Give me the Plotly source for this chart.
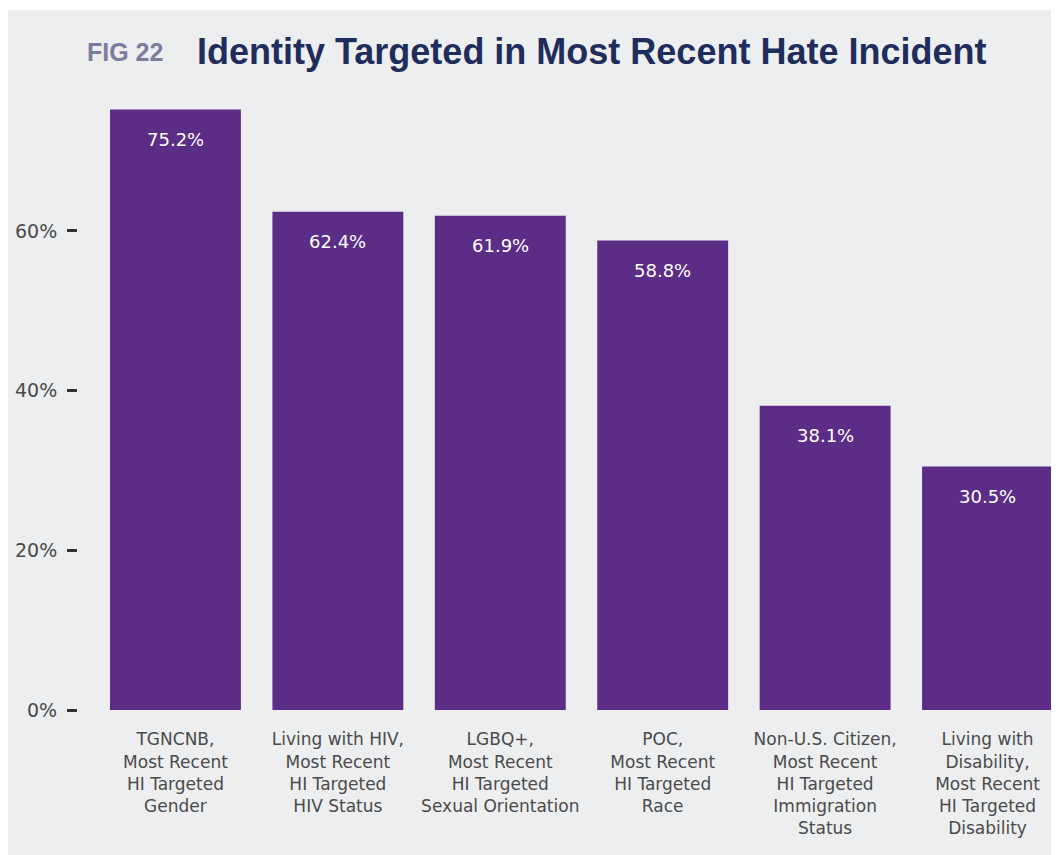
import plotly.graph_objects as go

categories = [
    "TGNCNB,<br>Most Recent<br>HI Targeted<br>Gender",
    "Living with HIV,<br>Most Recent<br>HI Targeted<br>HIV Status",
    "LGBQ+,<br>Most Recent<br>HI Targeted<br>Sexual Orientation",
    "POC,<br>Most Recent<br>HI Targeted<br>Race",
    "Non-U.S. Citizen,<br>Most Recent<br>HI Targeted<br>Immigration<br>Status",
    "Living with<br>Disability,<br>Most Recent<br>HI Targeted<br>Disability",
]
values = [75.2, 62.4, 61.9, 58.8, 38.1, 30.5]
y_ticks = [0, 20, 40, 60]
y_tick_labels = ["0%", "20%", "40%", "60%"]

BAR = "#5B2D87"
BG = "#EDEEF0"
TEXT = "#4A4A4A"
FONT = "DejaVu Sans"

# the page body adds an 8px margin, so the figure is 8px smaller
OFF = 8
W, H = 1059 - OFF, 855 - OFF
L, T, B = 78 - OFF, 100 - OFF, 145
plot_w, plot_h = W - L, H - T - B


def px(x):
    return (x - OFF - L) / plot_w


def py(y):
    return (H - B - (y - OFF)) / plot_h


fig = go.Figure()
fig.add_trace(go.Bar(
    x=list(range(len(categories))), y=values,
    marker=dict(color=BAR, line=dict(width=0)),
    width=0.806, hoverinfo="skip",
))

annotations = [
    dict(x=i, y=v, text=f"{v:.1f}%", showarrow=False, yshift=-30,
         font=dict(color="white", size=18, family=FONT))
    for i, v in enumerate(values)
]
annotations += [
    dict(x=px(85), y=py(52), xref="paper", yref="paper", xanchor="left", yanchor="middle",
         text="<b>FIG 22</b>", showarrow=False,
         font=dict(color="#7C7C9C", size=25, family="Liberation Sans")),
    dict(x=px(195), y=py(51), xref="paper", yref="paper", xanchor="left", yanchor="middle",
         text="<b>Identity Targeted in Most Recent Hate Incident</b>", showarrow=False,
         font=dict(color="#1F2D5C", size=36, family="Liberation Sans")),
]

fig.update_layout(
    width=W, height=H,
    margin=dict(l=L, r=0, t=T, b=B),
    paper_bgcolor="white", plot_bgcolor=BG,
    bargap=0.194, showlegend=False,
    shapes=[dict(type="rect", xref="paper", yref="paper", layer="below",
                 x0=px(5), x1=1, y0=py(855), y1=py(10),
                 fillcolor=BG, line=dict(width=0))],
    annotations=annotations,
    xaxis=dict(range=[-0.6, 5.44], tickvals=list(range(len(categories))),
               ticktext=categories, ticks="outside", ticklen=14, tickcolor="rgba(0,0,0,0)",
               tickfont=dict(size=17, color=TEXT, family=FONT),
               showgrid=False, zeroline=False, showline=False),
    yaxis=dict(range=[0, 76.4], tickvals=y_ticks, ticktext=y_tick_labels,
               ticks="outside", ticklen=10, tickwidth=3, tickcolor="#333333",
               ticklabelstandoff=6,
               tickfont=dict(size=19, color=TEXT, family=FONT),
               showgrid=False, zeroline=False, showline=False),
)

fig.write_html("out.html")
